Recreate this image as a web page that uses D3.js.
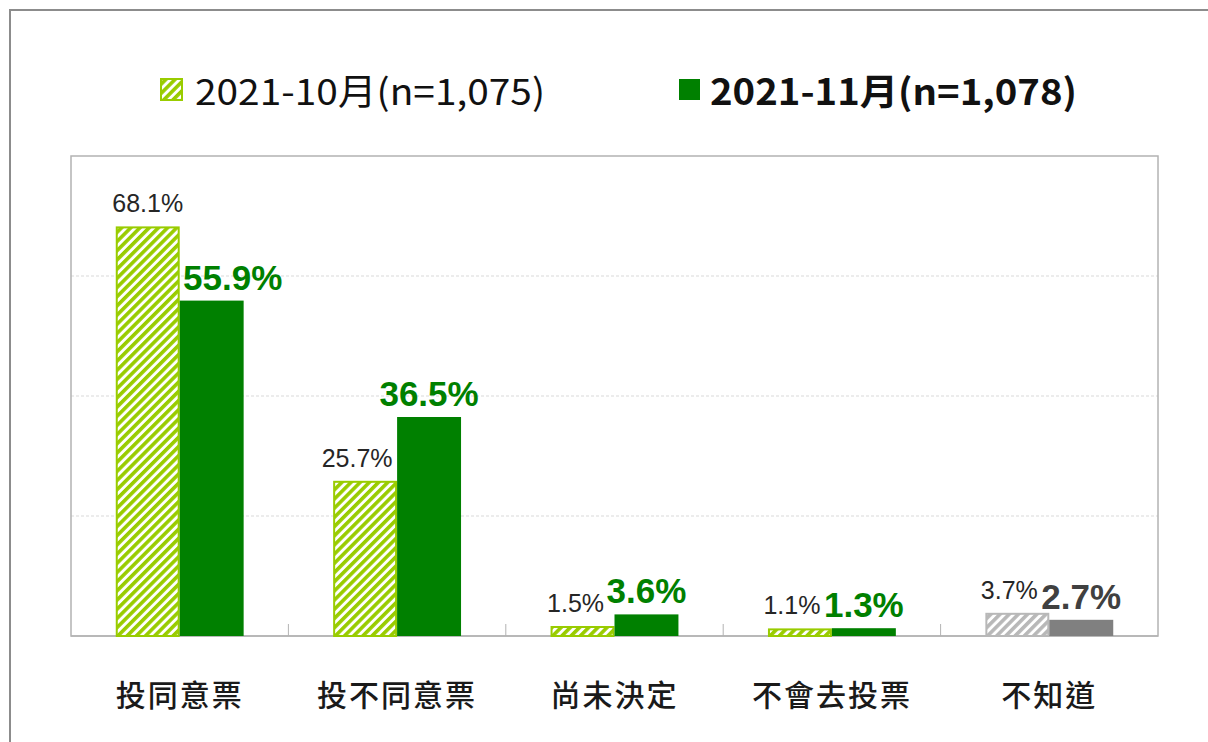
<!DOCTYPE html>
<html>
<head>
<meta charset="utf-8">
<script src="https://cdn.jsdelivr.net/npm/d3@7"></script>
<style>
  body { margin: 0; background: #fff; }
  svg { display: block; }
</style>
</head>
<body>
<svg width="1208" height="742"></svg>
<script>
// categories and values
const categories = ["投同意票", "投不同意票", "尚未決定", "不會去投票", "不知道"];
const octValues = [68.1, 25.7, 1.5, 1.1, 3.7];
const novValues = [55.9, 36.5, 3.6, 1.3, 2.7];
const seriesNames = ["2021-10月(n=1,075)", "2021-11月(n=1,078)"];
const yTicks = [0, 20, 40, 60, 80];

// small manual label nudges (like the original)
const octLabelDx = [0, -8, -7, -8, -8];
const novLabelDx = [21, 0, 0, 0, 0];

const svg = d3.select("svg");
const width = 1208, height = 742;
const plot = { left: 71, right: 1158, top: 156, bottom: 636 };

const lightGreen = "#99cc00";
const darkGreen = "#008000";
const lightGray = "#b8b8b8";
const darkGray = "#808080";

// outer frame
svg.append("rect")
  .attr("x", 10).attr("y", 10)
  .attr("width", width).attr("height", height)
  .attr("fill", "none").attr("stroke", "#8c8c8c").attr("stroke-width", 2);

// hatch patterns
const defs = svg.append("defs");
function hatch(id, color) {
  const p = defs.append("pattern")
    .attr("id", id)
    .attr("patternUnits", "userSpaceOnUse")
    .attr("width", 6.5).attr("height", 6.5)
    .attr("patternTransform", "rotate(45)");
  p.append("rect").attr("width", 6.5).attr("height", 6.5).attr("fill", "#fff");
  p.append("rect").attr("width", 3.6).attr("height", 6.5).attr("fill", color);
}
hatch("hatchGreen", lightGreen);
hatch("hatchGray", lightGray);

// scales
const x = d3.scaleBand().domain(categories).range([plot.left, plot.right]);
const xs = d3.scaleBand().domain(["oct", "nov"]).range([0, x.bandwidth()])
  .paddingInner(0).paddingOuter(0.7);
const y = d3.scaleLinear().domain([0, 80]).range([plot.bottom, plot.top]);

// gridlines
svg.append("g")
  .selectAll("line")
  .data(yTicks.filter(t => t > 0 && t < 80))
  .join("line")
  .attr("x1", plot.left).attr("x2", plot.right)
  .attr("y1", d => y(d)).attr("y2", d => y(d))
  .attr("stroke", "#d9d9d9").attr("stroke-dasharray", "3,2");

// plot border
svg.append("rect")
  .attr("x", plot.left).attr("y", plot.top)
  .attr("width", plot.right - plot.left).attr("height", plot.bottom - plot.top)
  .attr("fill", "none").attr("stroke", "#b3b3b3").attr("stroke-width", 1.5);

// x axis with tick marks between categories
const xAxis = svg.append("g")
  .attr("transform", `translate(0,${plot.bottom})`);
xAxis.append("line")
  .attr("x1", plot.left).attr("x2", plot.right)
  .attr("stroke", "#b3b3b3").attr("stroke-width", 1.5);
xAxis.selectAll("line.tick")
  .data(categories.slice(1))
  .join("line")
  .attr("class", "tick")
  .attr("x1", d => x(d)).attr("x2", d => x(d))
  .attr("y1", 0).attr("y2", -12)
  .attr("stroke", "#b3b3b3");

xAxis.selectAll("text")
  .data(categories)
  .join("text")
  .attr("x", d => x(d) + x.bandwidth() / 2)
  .attr("y", 70)
  .attr("text-anchor", "middle")
  .attr("font-family", "'Noto Sans CJK TC', sans-serif")
  .attr("font-weight", 500)
  .attr("font-size", 30)
  .attr("letter-spacing", 2)
  .attr("fill", "#1a1a1a")
  .text(d => d);

const rows = categories.map((c, i) => ({
  cat: c, i, oct: octValues[i], nov: novValues[i], gray: c === "不知道"
}));

const groups = svg.append("g")
  .selectAll("g")
  .data(rows)
  .join("g")
  .attr("transform", d => `translate(${x(d.cat)},0)`);

// October bars (hatched)
groups.append("rect")
  .attr("x", xs("oct") + 1)
  .attr("y", d => y(d.oct))
  .attr("width", xs.bandwidth() - 2)
  .attr("height", d => y(0) - y(d.oct))
  .attr("fill", d => d.gray ? "url(#hatchGray)" : "url(#hatchGreen)")
  .attr("stroke", d => d.gray ? lightGray : lightGreen)
  .attr("stroke-width", 2);

// November bars (solid)
groups.append("rect")
  .attr("x", xs("nov"))
  .attr("y", d => y(d.nov))
  .attr("width", xs.bandwidth())
  .attr("height", d => y(0) - y(d.nov))
  .attr("fill", d => d.gray ? darkGray : darkGreen);

// value labels
groups.append("text")
  .attr("x", d => xs("oct") + xs.bandwidth() / 2 + octLabelDx[d.i])
  .attr("y", d => y(d.oct) - 15)
  .attr("text-anchor", "middle")
  .attr("font-family", "'Liberation Sans', Arial, sans-serif")
  .attr("font-size", 25)
  .attr("fill", "#262626")
  .text(d => d.oct.toFixed(1) + "%");

groups.append("text")
  .attr("x", d => xs("nov") + xs.bandwidth() / 2 + novLabelDx[d.i])
  .attr("y", d => y(d.nov) - 11)
  .attr("text-anchor", "middle")
  .attr("font-family", "'Liberation Sans', Arial, sans-serif")
  .attr("font-weight", "bold")
  .attr("font-size", 35)
  .attr("fill", d => d.gray ? "#404040" : darkGreen)
  .text(d => d.nov.toFixed(1) + "%");

// legend
const legend = svg.append("g");
const legendItems = [
  { name: seriesNames[0], x: 160, fill: "url(#hatchGreen)", stroke: lightGreen, bold: false, len: 350 },
  { name: seriesNames[1], x: 678, fill: darkGreen, stroke: "none", bold: true, len: 367 }
];
const li = legend.selectAll("g")
  .data(legendItems)
  .join("g")
  .attr("transform", d => `translate(${d.x},0)`);
li.append("rect")
  .attr("x", 1).attr("y", 79)
  .attr("width", 21).attr("height", 21)
  .attr("fill", d => d.fill)
  .attr("stroke", d => d.stroke)
  .attr("stroke-width", 2);
li.append("text")
  .attr("x", d => d.bold ? 32 : 35)
  .attr("y", 105)
  .attr("font-family", "'Noto Sans CJK TC', sans-serif")
  .attr("font-weight", d => d.bold ? "bold" : "normal")
  .attr("font-size", 36)
  .attr("textLength", d => d.len)
  .attr("lengthAdjust", "spacingAndGlyphs")
  .attr("fill", "#111")
  .text(d => d.name);
</script>
</body>
</html>
